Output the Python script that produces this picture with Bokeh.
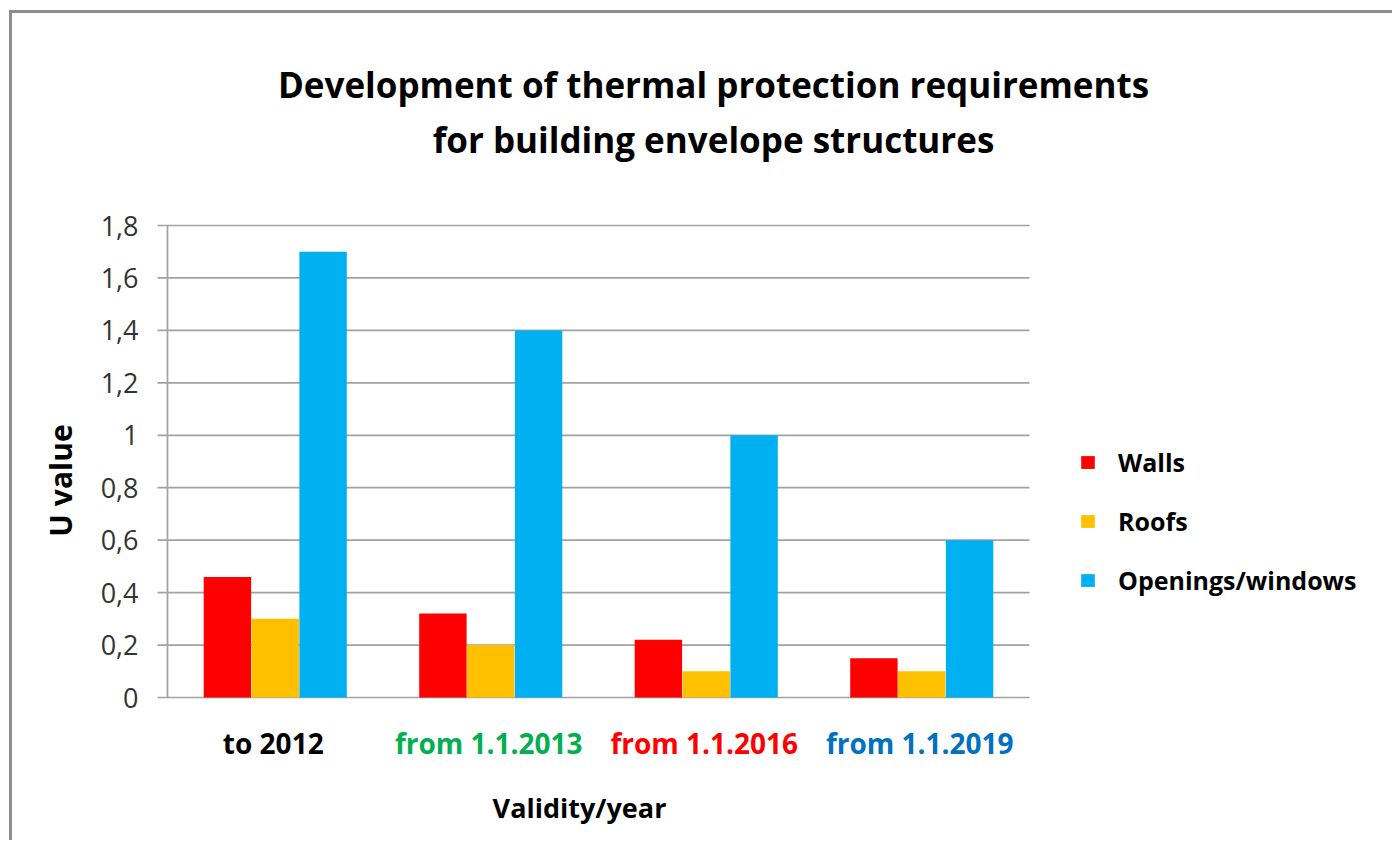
import math
from bokeh.plotting import figure
from bokeh.models import Range1d, Legend, LegendItem
from bokeh.core.properties import value
from bokeh.embed import file_html
from bokeh.resources import INLINE

# ---------------- data ----------------
categories = ["to 2012", "from 1.1.2013", "from 1.1.2016", "from 1.1.2019"]
category_colors = ["#000000", "#00B050", "#FF0000", "#0070C0"]
walls = [0.46, 0.32, 0.22, 0.15]
roofs = [0.30, 0.20, 0.10, 0.10]
windows = [1.70, 1.40, 1.00, 0.60]
series_names = ["Walls", "Roofs", "Openings/windows"]
series_colors = ["#FF0000", "#FFC000", "#00B0F0"]
y_ticks = [0, 0.2, 0.4, 0.6, 0.8, 1.0, 1.2, 1.4, 1.6, 1.8]
y_tick_labels = ["0", "0,2", "0,4", "0,6", "0,8", "1", "1,2", "1,4", "1,6", "1,8"]
title_lines = ["Development of thermal protection requirements",
               "for building envelope structures"]
x_title = "Validity/year"
y_title = "U value"

# ---------------- layout (pixels on the page) ----------------
CX, CY = 12, 13               # canvas origin on the page (margin + 3px border)
W, H = 1383, 830
PLOT_L, PLOT_R, PLOT_T, PLOT_B = 167, 1029, 225, 697
PLOT_CX = (PLOT_L + PLOT_R) / 2
PLOT_CY = (PLOT_T + PLOT_B) / 2
YMAX = 1.8
NCAT = len(categories)
sx = (PLOT_R - PLOT_L) / NCAT          # px per category
sy = (PLOT_B - PLOT_T) / YMAX          # px per unit
x_start = -(PLOT_L - CX) / sx
x_end = x_start + W / sx
y_end = (PLOT_B - CY) / sy
y_start = y_end - H / sy

FONT = value("Open Sans")
GRID = "#a2a2a2"

p = figure(x_range=Range1d(x_start, x_end), y_range=Range1d(y_start, y_end),
           width=W, height=H, output_backend="svg", toolbar_location=None,
           x_axis_location=None, y_axis_location=None,
           min_border_left=0, min_border_right=0, min_border_top=0, min_border_bottom=0)
p.styles = {"margin-left": "9px", "margin-top": "10px",
            "border-top": "3px solid #8d8d8d", "border-left": "3px solid #8d8d8d"}
p.outline_line_color = None
p.background_fill_color = "white"
p.border_fill_color = "white"
p.xgrid.visible = False
p.ygrid.visible = False

# ---- gridlines, value axis line and ticks ----
tick_len = 10 / sx
n = len(y_ticks)
p.segment(x0=[-tick_len] * n, y0=y_ticks, x1=[NCAT] * n, y1=y_ticks,
          line_color=GRID, line_width=1.7)
p.segment(x0=[0], y0=[0], x1=[0], y1=[YMAX], line_color=GRID, line_width=1.7)
p.text(x=[0] * n, y=y_ticks, text=y_tick_labels, x_offset=-29,
       text_font=FONT, text_font_size="27px", text_color="#333333",
       text_align="right", text_baseline="middle")

# ---- bars ----
bw = 0.22
offs = [-0.222, 0.0, 0.222]
renderers = []
for vals, off, col in zip([walls, roofs, windows], offs, series_colors):
    xs = [i + 0.5 + off for i in range(NCAT)]
    r = p.vbar(x=xs, top=vals, bottom=0, width=bw, fill_color=col, line_color=None)
    renderers.append(r)

# ---- category labels in their own colours ----
p.text(x=[i + 0.5 for i in range(NCAT)], y=[0] * NCAT, text=categories,
       x_offset=-2, y_offset=742 - PLOT_B, text_color=category_colors,
       text_font=FONT, text_font_size="28px", text_font_style="bold",
       text_align="center", text_baseline="middle")

# ---- axis titles ----
p.text(x=[NCAT / 2], y=[0], text=[x_title], x_offset=579 - PLOT_CX,
       y_offset=807 - PLOT_B, text_font=FONT, text_font_size="27px",
       text_font_style="bold", text_color="black",
       text_align="center", text_baseline="middle")
p.text(x=[0], y=[YMAX / 2], text=[y_title], x_offset=60 - PLOT_L,
       y_offset=480 - PLOT_CY, angle=math.pi / 2,
       text_font=FONT, text_font_size="30px", text_font_style="bold",
       text_color="black", text_align="center", text_baseline="middle")

# ---- chart title (two lines) ----
p.text(x=[NCAT / 2] * 2, y=[YMAX] * 2, text=title_lines,
       x_offset=713 - PLOT_CX,
       y_offset=[84 - PLOT_T, 139 - PLOT_T],
       text_font=FONT, text_font_size="35px", text_font_style="bold",
       text_color="black", text_align="center", text_baseline="middle")

# ---- legend ----
legend = Legend(items=[LegendItem(label=nm, renderers=[r]) for nm, r in zip(series_names, renderers)],
                location=(1079 - CX, CY + H - 597), orientation="vertical",
                glyph_width=17, glyph_height=16, label_standoff=22, spacing=25,
                label_text_font="Open Sans", label_text_font_size="25px",
                label_text_font_style="bold", label_text_color="black",
                padding=0, margin=0, border_line_color=None, background_fill_alpha=0)
p.add_layout(legend, "center")

open("out.html", "w").write(file_html(p, INLINE))
